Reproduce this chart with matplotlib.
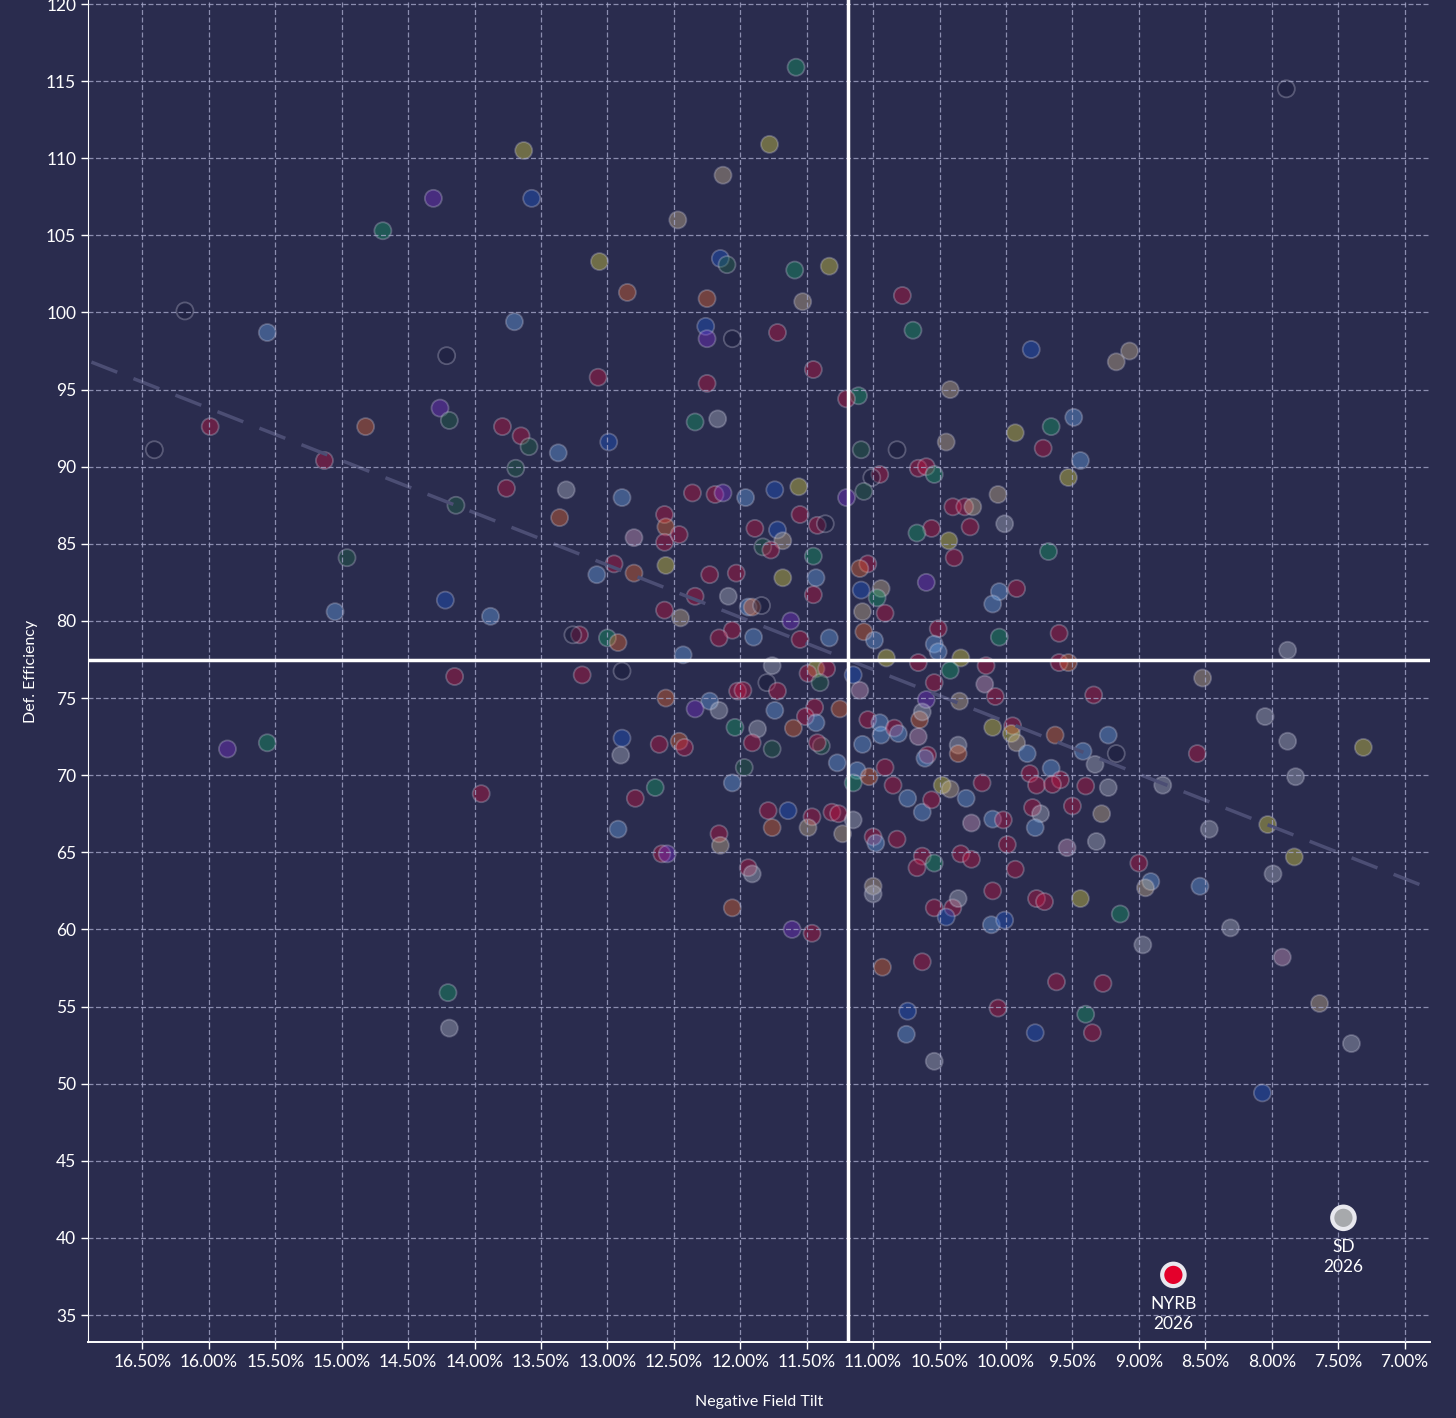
import numpy as np
import matplotlib
matplotlib.use("Agg")
import matplotlib.pyplot as plt
from matplotlib.colors import to_rgba
from matplotlib.ticker import FuncFormatter, MultipleLocator

plt.rcParams['font.family'] = ['Lato', 'DejaVu Sans']

# negative field tilt (%) / def. efficiency / team colour code, one entry per team-season
neg_tilt = [
    11.58, 7.89, 13.63, 11.78, 12.13, 14.31, 13.57, 14.69, 12.47, 13.06,
    12.15, 12.10, 11.33, 11.59, 12.85, 12.25, 11.53, 10.78, 16.18, 15.56,
    13.70, 12.26, 12.25, 12.06, 11.72, 10.70, 9.81, 9.07, 9.17, 14.21,
    13.07, 12.25, 11.45, 10.42, 11.11, 11.20, 14.26, 14.19, 14.82, 15.99,
    13.79, 13.65, 13.59, 12.34, 12.17, 12.99, 13.37, 16.41, 15.13, 13.69,
    13.76, 13.31, 11.09, 10.82, 10.45, 9.93, 9.66, 9.49, 9.72, 9.44,
    10.66, 10.60, 10.54, 10.95, 11.01, 9.53, 12.36, 12.19, 12.13, 11.96,
    11.74, 11.56, 11.20, 11.07, 10.06, 12.89,
    14.14, 13.36, 12.57, 12.56, 12.57, 12.46, 12.80, 11.89, 11.72, 11.68,
    11.83, 11.77, 11.55, 11.42, 11.36, 11.45, 10.40, 10.31, 10.25, 10.27,
    10.56, 10.67, 10.43, 10.01, 10.39, 9.68, 11.04, 11.10, 14.96, 13.08,
    12.56, 12.95, 12.80, 12.23, 12.03, 12.09, 12.34, 11.68, 11.43, 11.45,
    10.60, 11.09, 10.94, 10.97, 10.05, 9.92, 10.10, 14.22, 15.05, 13.88,
    12.57, 12.45, 11.94, 11.91, 11.84, 11.62, 11.08, 10.91,
    11.33, 11.55, 11.90, 12.06, 12.16, 12.43, 13.21, 13.26, 13.00, 12.92,
    13.19, 12.89, 11.76, 11.43, 11.49, 11.35, 11.40, 11.80, 11.72, 12.02,
    11.98, 12.56, 11.07, 10.99, 10.90, 10.66, 10.51, 10.54, 10.51, 10.34,
    10.15, 10.05, 9.60, 9.60, 9.53, 7.88, 8.52, 11.15, 10.42, 10.54,
    11.10, 10.16, 10.60, 10.35, 10.08, 9.34, 14.15, 12.23,
    12.16, 12.34, 11.74, 11.44, 11.25, 11.51, 11.43, 11.60, 12.04, 11.87,
    11.91, 11.76, 11.39, 11.42, 11.27, 11.97, 12.06, 12.89, 12.61, 12.46,
    12.42, 12.90, 12.64, 12.79, 11.04, 10.95, 10.94, 10.84, 10.81, 10.65,
    10.63, 10.66, 10.10, 11.08, 10.91, 10.85, 10.74, 10.63, 10.56, 10.59,
    10.61, 10.36, 10.36, 10.48, 10.42, 10.30, 10.18, 11.12, 11.15, 11.03,
    9.95, 9.96, 9.92, 9.84, 9.63, 9.23, 9.17, 9.42, 9.33, 9.66,
    9.82, 9.59, 9.77, 9.65, 9.40, 9.23, 8.82, 8.56, 8.05, 7.88,
    7.31, 7.82, 13.95, 15.86, 15.56,
    11.79, 11.64, 11.46, 11.31, 11.26, 11.76, 11.49, 11.23, 11.15, 12.92,
    12.59, 12.55, 12.16, 12.15, 11.94, 11.91, 12.06, 11.61, 11.46, 11.00,
    10.98, 10.82, 10.26, 10.10, 10.02, 10.63, 10.67, 10.54, 10.34, 10.26,
    11.00, 11.00, 10.54, 10.40, 10.36, 10.45, 10.10, 10.11, 10.01, 9.93,
    9.99, 9.80, 9.74, 9.50, 9.28, 9.78, 9.54, 9.32, 8.47, 8.03,
    9.00, 8.91, 8.95, 9.77, 9.71, 9.44, 9.14, 8.54, 7.83, 7.99,
    8.31, 8.97, 7.92, 9.62, 9.27, 10.06, 9.40, 9.78, 9.35, 7.64,
    7.40, 8.07, 10.93, 10.63, 10.74, 10.75, 10.54, 14.20, 14.19,
]
def_eff = [
    115.9, 114.5, 110.5, 110.9, 108.9, 107.4, 107.4, 105.3, 106.0, 103.3,
    103.5, 103.1, 103.0, 102.75, 101.3, 100.9, 100.7, 101.1, 100.1, 98.7,
    99.4, 99.1, 98.3, 98.3, 98.7, 98.85, 97.6, 97.5, 96.8, 97.2,
    95.8, 95.4, 96.3, 95.0, 94.6, 94.4, 93.8, 93.0, 92.6, 92.6,
    92.6, 92.0, 91.3, 92.9, 93.1, 91.6, 90.9, 91.1, 90.4, 89.9,
    88.6, 88.5, 91.1, 91.1, 91.6, 92.2, 92.6, 93.2, 91.2, 90.4,
    89.9, 90.0, 89.5, 89.5, 89.3, 89.3, 88.3, 88.2, 88.3, 88.0,
    88.5, 88.7, 88.0, 88.4, 88.2, 88.0,
    87.5, 86.7, 86.9, 86.1, 85.1, 85.6, 85.4, 86.0, 85.9, 85.2,
    84.8, 84.6, 86.9, 86.2, 86.3, 84.2, 87.4, 87.4, 87.4, 86.1,
    86.0, 85.7, 85.2, 86.3, 84.1, 84.5, 83.7, 83.4, 84.1, 83.0,
    83.6, 83.7, 83.1, 83.0, 83.1, 81.6, 81.6, 82.8, 82.8, 81.7,
    82.5, 82.0, 82.1, 81.5, 81.9, 82.1, 81.1, 81.35, 80.6, 80.3,
    80.7, 80.2, 80.9, 80.9, 81.0, 80.0, 80.6, 80.5,
    78.9, 78.8, 78.95, 79.4, 78.9, 77.8, 79.1, 79.1, 78.9, 78.6,
    76.5, 76.75, 77.1, 76.9, 76.6, 76.9, 76.0, 76.0, 75.45, 75.45,
    75.5, 75.0, 79.3, 78.75, 77.6, 77.3, 79.5, 78.5, 78.0, 77.6,
    77.1, 78.95, 79.2, 77.3, 77.3, 78.1, 76.3, 76.5, 76.8, 76.0,
    75.5, 75.9, 74.9, 74.8, 75.1, 75.2, 76.4, 74.8,
    74.2, 74.3, 74.2, 74.4, 74.3, 73.8, 73.4, 73.05, 73.1, 73.0,
    72.1, 71.7, 71.9, 72.1, 70.8, 70.5, 69.5, 72.4, 72.0, 72.2,
    71.8, 71.3, 69.2, 68.5, 73.6, 73.4, 72.6, 73.05, 72.7, 73.6,
    74.1, 72.5, 73.1, 72.0, 70.5, 69.35, 68.5, 67.6, 68.4, 71.3,
    71.1, 71.95, 71.4, 69.35, 69.1, 68.5, 69.5, 70.3, 69.5, 69.9,
    73.2, 72.7, 72.1, 71.4, 72.6, 72.6, 71.4, 71.55, 70.7, 70.45,
    70.1, 69.7, 69.35, 69.4, 69.3, 69.2, 69.35, 71.4, 73.8, 72.2,
    71.8, 69.9, 68.8, 71.7, 72.1,
    67.7, 67.7, 67.3, 67.6, 67.5, 66.6, 66.6, 66.2, 67.1, 66.5,
    64.9, 64.9, 66.2, 65.45, 64.0, 63.6, 61.4, 60.0, 59.75, 66.0,
    65.6, 65.85, 66.9, 67.15, 67.1, 64.75, 64.0, 64.3, 64.9, 64.55,
    62.8, 62.3, 61.4, 61.4, 62.0, 60.8, 62.5, 60.3, 60.6, 63.9,
    65.5, 67.9, 67.5, 68.0, 67.5, 66.6, 65.3, 65.7, 66.5, 66.8,
    64.3, 63.1, 62.7, 62.0, 61.8, 62.0, 61.0, 62.8, 64.7, 63.6,
    60.1, 59.0, 58.2, 56.6, 56.5, 54.9, 54.5, 53.3, 53.3, 55.2,
    52.6, 49.4, 57.55, 57.9, 54.7, 53.2, 51.45, 55.9, 53.6,
]
team_code = list(
    "GNYYWPBGWY" "BTYGOOWRNL" "LBPNRGBWWN" "RRRWGRPTOR" "RRTGSBLNRT"
    "RSTNWYGLRL" "RRGRNYRRPL" "BYPTWL"
    "TORORRMRBW" "TRRRNGRRWR" "RGYSRGROTL" "YRORRSRYLR" "PBWGLRLBLL"
    "RWLONPWR"
    "LRLRRLRNGO" "RNSYRRTNRR" "ROOLYRRLLY" "RGRROSWBGR" "MMPWRRRL"
    "SPLROR" "LOGS" "RTTRLTLBRO" "RSGRRLLRLO" "SMYLRRLLRR" "LSOYWLRLGO"
    "RYWLOLNLSL" "RRRRRSSRSS" "YSRPG"
    "RBRRROWWSL" "RPRWRSOPRR" "LRMLRRRGRR" "WSRRSBRLBR" "RRSRWLMSSY"
    "RLWRRYGLYS" "SSMRRRGBRW" "SBORBLSGS"
)

team_colors = {
    'R': '#c8103e', 'B': '#1c58d0', 'L': '#6aaaf0', 'G': '#12a064',
    'Y': '#e0d840', 'O': '#e8682c', 'S': '#b4bccc', 'P': '#7a30d0',
    'T': '#1e6844', 'N': '#161838', 'M': '#d8a0c8', 'W': '#d0b88e',
}

highlight_team = ['NYRB', 'SD']
highlight_season = [2026, 2026]
highlight_tilt = [8.74, 7.46]
highlight_eff = [37.6, 41.3]
highlight_color = ['#e4002b', '#a7a9ac']

# reference lines (overall medians)
median_tilt = 11.19
median_eff = 77.46

bg = '#2a2c4e'
fig = plt.figure(figsize=(14.56, 14.18), dpi=100, facecolor=bg)
ax = fig.add_axes([0.0604, 0.0536, 0.9216, 0.9464])
ax.set_facecolor(bg)

faces = [to_rgba(team_colors[c], 0.38) for c in team_code]
edges = [to_rgba('#c4c4d8', 0.32)] * len(team_code)
ax.scatter(neg_tilt, def_eff, s=150, c=faces, edgecolors=edges,
           linewidths=1.3, zorder=1)

# trend line
k, b = np.polyfit(neg_tilt + highlight_tilt, def_eff + highlight_eff, 1)
xx = np.array([17.2, 6.5])
ax.plot(xx, k * xx + b, color='#4c4e74', lw=2.5, dashes=(8, 5), zorder=1.5)

ax.axvline(median_tilt, color='white', lw=2.5, zorder=3)
ax.axhline(median_eff, color='white', lw=2.5, zorder=3)

ax.scatter(highlight_tilt, highlight_eff, s=260, c=highlight_color,
           edgecolors='#e8e8ee', linewidths=3, zorder=5)
for name, yr, xv, yv in zip(highlight_team, highlight_season, highlight_tilt, highlight_eff):
    ax.annotate(f"{name}\n{yr}", (xv, yv), xytext=(0, -15), textcoords='offset points',
                ha='center', va='top', color='white', fontsize=12.5, linespacing=1.35,
                zorder=6)

ax.set_xlim(16.91, 6.81)
ax.set_ylim(33.25, 120.26)
ax.xaxis.set_major_locator(MultipleLocator(0.5))
ax.yaxis.set_major_locator(MultipleLocator(5))
ax.xaxis.set_major_formatter(FuncFormatter(lambda v, p: f"{v:.2f}%"))
ax.yaxis.set_major_formatter(FuncFormatter(lambda v, p: f"{v:.0f}"))

ax.set_axisbelow(False)
ax.grid(True, color='#a4a6c8', lw=0.9, dashes=(4, 2), alpha=0.8, zorder=2)

for side in ['top', 'right']:
    ax.spines[side].set_visible(False)
for side in ['left', 'bottom']:
    ax.spines[side].set_color('white')
ax.spines['left'].set_linewidth(0.8)
ax.spines['bottom'].set_linewidth(1.4)

ax.tick_params(colors='white', labelsize=12.5, length=5, width=1)
ax.set_xlabel("Negative Field Tilt", color='white', fontsize=11.5, labelpad=18)
ax.set_ylabel("Def. Efficiency", color='white', fontsize=11.5, labelpad=6)

fig.savefig("out.png", dpi=100, facecolor=bg)
